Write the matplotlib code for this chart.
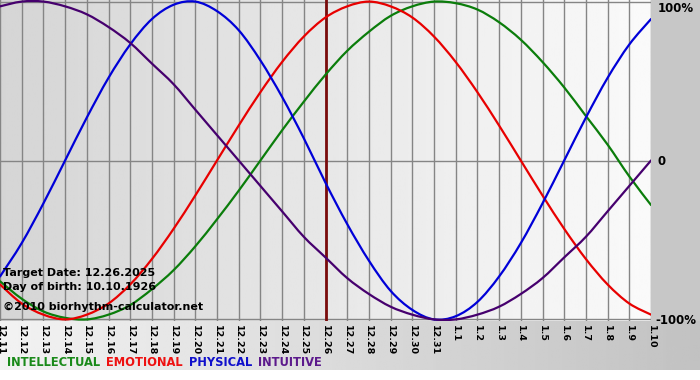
import numpy as np
import matplotlib
matplotlib.use("Agg")
import matplotlib.pyplot as plt
from matplotlib.path import Path
from matplotlib.patches import PathPatch

# days shown, 12.11 ... 1.10 (target day 12.26 sits at index 15)
dates = ["12.11", "12.12", "12.13", "12.14", "12.15", "12.16", "12.17", "12.18",
         "12.19", "12.20", "12.21", "12.22", "12.23", "12.24", "12.25", "12.26",
         "12.27", "12.28", "12.29", "12.30", "12.31", "1.1", "1.2", "1.3", "1.4",
         "1.5", "1.6", "1.7", "1.8", "1.9", "1.10"]
target_idx = 15

# values (fraction of 100%)
intellectual = [-0.76, -0.87, -0.95, -0.99, -1.00, -0.97, -0.91, -0.81, -0.69, -0.54,
                -0.37, -0.19, 0.00, 0.19, 0.37, 0.54, 0.69, 0.81, 0.91, 0.97,
                1.00, 0.99, 0.95, 0.87, 0.76, 0.62, 0.46, 0.28, 0.10, -0.10, -0.28]
emotional = [-0.78, -0.90, -0.97, -1.00, -0.97, -0.90, -0.78, -0.62, -0.43, -0.22,
             0.00, 0.22, 0.43, 0.62, 0.78, 0.90, 0.97, 1.00, 0.97, 0.90,
             0.78, 0.62, 0.43, 0.22, 0.00, -0.22, -0.43, -0.62, -0.78, -0.90, -0.97]
physical = [-0.73, -0.52, -0.27, 0.00, 0.27, 0.52, 0.73, 0.89, 0.98, 1.00,
            0.94, 0.82, 0.63, 0.40, 0.14, -0.14, -0.40, -0.63, -0.82, -0.94,
            -1.00, -0.98, -0.89, -0.73, -0.52, -0.27, 0.00, 0.27, 0.52, 0.73, 0.89]
intuitive = [0.97, 1.00, 1.00, 0.97, 0.92, 0.84, 0.74, 0.61, 0.48, 0.32,
             0.16, 0.00, -0.16, -0.32, -0.48, -0.61, -0.74, -0.84, -0.92, -0.97,
             -1.00, -1.00, -0.97, -0.92, -0.84, -0.74, -0.61, -0.48, -0.32, -0.16, 0.00]

series = [
    ("INTELLECTUAL", intellectual, "#0b7d0b", "#1a8a1a"),
    ("EMOTIONAL", emotional, "#e80000", "#ee1111"),
    ("PHYSICAL", physical, "#0000d8", "#1010cc"),
    ("INTUITIVE", intuitive, "#46006e", "#5c1a8c"),
]
info_lines = ["Target Date: 12.26.2025", "Day of birth: 10.10.1926",
              "\u00a92010 biorhythm-calculator.net"]
right_labels = [(1.0, "100%"), (0.0, "0"), (-1.0, "-100%")]


def smooth_path(xs, ys):
    """Catmull-Rom curve through the points, written as cubic Bezier pieces."""
    pts = np.column_stack([xs, ys]).astype(float)
    padded = np.vstack([pts[:1], pts, pts[-1:]])
    verts = [pts[0]]
    codes = [Path.MOVETO]
    for i in range(len(pts) - 1):
        p0, p1, p2, p3 = padded[i], padded[i + 1], padded[i + 2], padded[i + 3]
        verts += [p1 + (p2 - p0) / 6.0, p2 - (p3 - p1) / 6.0, p2]
        codes += [Path.CURVE4] * 3
    return Path(verts, codes)


W, H = 700, 380
fig = plt.figure(figsize=(W / 100, H / 100), dpi=100)
fig.patch.set_facecolor("white")

# page background: grey strip on the right, fading band under the plot
bg = fig.add_axes([0, 0, 1, 1])
bg.set_xlim(0, W)
bg.set_ylim(H, 0)
bg.axis("off")
band = np.linspace(0.95, 0.76, 256)[np.newaxis, :]
bg.imshow(band, cmap="gray", vmin=0, vmax=1, extent=[0, W, 370, 321], aspect="auto")
bg.imshow([[0.78]], cmap="gray", vmin=0, vmax=1, extent=[651, W, 321, 0], aspect="auto")

x = np.arange(len(dates))
ax = fig.add_axes([0 / W, (H - 321) / H, 651 / W, 321 / H])
ax.set_xlim(0, len(dates) - 1)
ax.set_ylim(-1.01, 1.01)
grad = np.linspace(0.835, 0.98, 256)[np.newaxis, :]
ax.imshow(grad, cmap="gray", vmin=0, vmax=1, extent=[0, len(dates) - 1, -1.01, 1.01],
          aspect="auto", zorder=0)

for xi in x:
    ax.axvline(xi, color="#858585", lw=1.0, zorder=1)
for yv in (-1.0, 0.0, 1.0):
    ax.axhline(yv, color="#858585", lw=1.0, zorder=1)
ax.axvline(target_idx, color="#7a0c0c", lw=2.0, zorder=2)

for name, vals, lcol, _ in series:
    patch = PathPatch(smooth_path(x, vals), facecolor="none", edgecolor=lcol,
                      lw=1.6, zorder=3, capstyle="round")
    ax.add_patch(patch)

for sp in ax.spines.values():
    sp.set_visible(False)
ax.set_yticks([])
ax.set_xticks(x)
ax.set_xticklabels(dates, rotation=270, fontsize=6.8, fontweight="bold")
ax.tick_params(axis="x", length=0, pad=3)

for i, line in enumerate(info_lines):
    fig.text(3 / W, 1 - [273, 287, 307][i] / H, line, fontsize=8, fontweight="bold",
             va="center", ha="left", color="black")

for yv, lab in right_labels:
    dy = -5 if yv > 0 else -1
    dx = 3.5 if yv < 0 else 5
    ax.annotate(lab, xy=(1, yv), xycoords=("axes fraction", "data"),
                xytext=(dx, dy), textcoords="offset points",
                fontsize=8.5, fontweight="bold", va="center", ha="left",
                annotation_clip=False)

# coloured name legend along the bottom
xpos = 7
for name, _, _, tcol in series:
    t = fig.text(xpos / W, 1 - 362 / H, name, fontsize=8.3, fontweight="bold",
                 color=tcol, va="center", ha="left")
    fig.canvas.draw()
    bb = t.get_window_extent()
    xpos = bb.x1 + 6

fig.savefig("out.png", dpi=100, facecolor=fig.get_facecolor())
